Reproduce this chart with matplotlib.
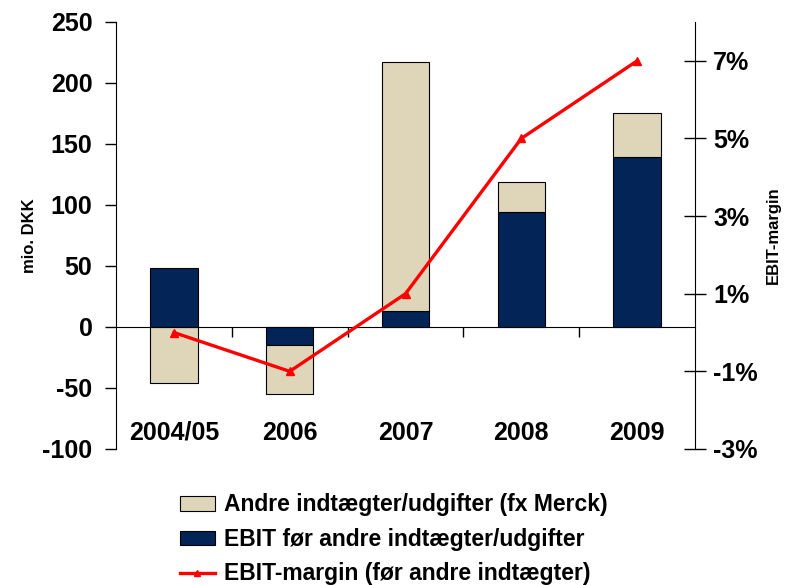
import numpy as np
import matplotlib
matplotlib.use("Agg")
import matplotlib.pyplot as plt
from matplotlib.patches import Patch
from matplotlib.lines import Line2D
import matplotlib.transforms as mtransforms

plt.rcParams['font.family'] = ['Liberation Sans', 'DejaVu Sans']
plt.rcParams['axes.unicode_minus'] = False

categories = ["2004/05", "2006", "2007", "2008", "2009"]
ebit = [48, -15, 13, 94, 139]
other = [-46, -40, 204, 25, 36]
margin = [0.0, -1.0, 1.0, 5.0, 7.0]
left_ticks = [-100, -50, 0, 50, 100, 150, 200, 250]
right_ticks = [-3, -1, 1, 3, 5, 7]

beige = "#DFD6BA"
navy = "#022456"
red = "#FF0000"

fig = plt.figure(figsize=(7.85, 5.85), dpi=100)
ax = fig.add_axes([0.1478, 0.2325, 0.7376, 0.7299])
x = np.arange(len(categories))
ebit_a = np.array(ebit, dtype=float)
other_a = np.array(other, dtype=float)
bottom_other = np.where(np.sign(other_a) == np.sign(ebit_a), ebit_a, 0.0)

w = 0.41
ax.bar(x, ebit_a, width=w, color=navy, edgecolor="black", linewidth=0.8, zorder=2)
ax.bar(x, other_a, width=w, bottom=bottom_other, color=beige, edgecolor="black", linewidth=0.8, zorder=2)

ax.set_xlim(-0.5, len(categories) - 0.5)
ax.set_ylim(-100, 250)
ax.set_yticks(left_ticks)
ax.tick_params(axis='y', labelsize=18, length=8, width=1, pad=9)
for lab in ax.get_yticklabels():
    lab.set_fontweight('bold')
ax.spines['top'].set_visible(False)
ax.spines['right'].set_visible(False)
ax.spines['bottom'].set_position(('data', 0))
ax.spines['bottom'].set_zorder(3)
ax.set_xticks(np.arange(len(categories) - 1) + 0.5)
ax.set_xticklabels([])
ax.tick_params(axis='x', length=7, width=1, direction='out')
ax.set_ylabel("mio. DKK", fontsize=12, fontweight='bold', labelpad=4)

trans = mtransforms.blended_transform_factory(ax.transData, ax.transAxes)
for xi, c in zip(x, categories):
    ax.text(xi, 0.038, c, transform=trans, ha='center', va='center', fontsize=18, fontweight='bold')

ax2 = ax.twinx()
ax2.set_ylim(-3, 8)
ax2.set_yticks(right_ticks)
ax2.set_yticklabels([f"{t}%" for t in right_ticks])
ax2.tick_params(axis='y', labelsize=18, length=16, width=1, direction='inout', pad=5)
for lab in ax2.get_yticklabels():
    lab.set_fontweight('bold')
for s in ['top', 'left', 'bottom']:
    ax2.spines[s].set_visible(False)
ax2.plot(x, margin, color=red, linewidth=2.4, marker='^', markersize=6, zorder=5)
ax2.set_ylabel("EBIT-margin", fontsize=12, fontweight='bold', labelpad=6)

handles = [
    Patch(facecolor=beige, edgecolor="black", linewidth=0.8, label="Andre indtægter/udgifter (fx Merck)"),
    Patch(facecolor=navy, edgecolor="black", linewidth=0.8, label="EBIT før andre indtægter/udgifter"),
    Line2D([0], [0], color=red, linewidth=2.4, marker='^', markersize=5, label="EBIT-margin (før andre indtægter)"),
]
leg = fig.legend(handles=handles, loc='upper left', bbox_to_anchor=(0.215, 0.176), frameon=False,
                 prop={'size': 16.5, 'weight': 'bold'}, handlelength=1.5, handleheight=0.6,
                 handletextpad=0.4, labelspacing=0.5, borderpad=0)

fig.savefig("out.png", dpi=100)
